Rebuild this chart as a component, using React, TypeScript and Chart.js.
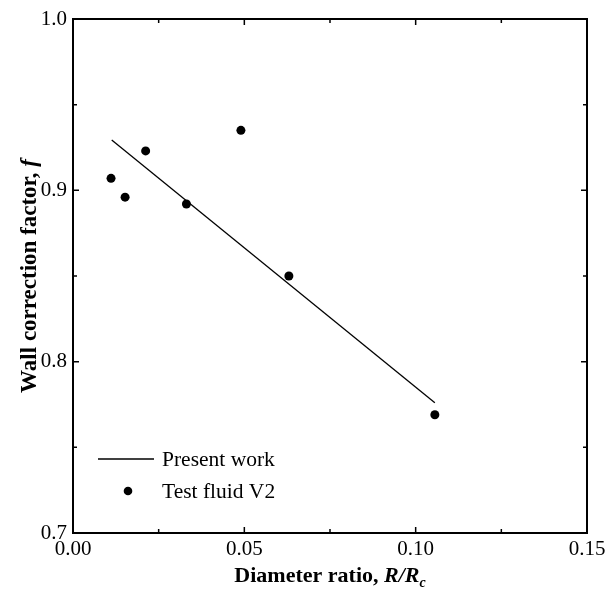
import React, { useEffect, useRef } from "react";
import { Chart, registerables } from "chart.js";

Chart.register(...registerables);

// Data
const diameterRatio = [0.0111, 0.0152, 0.0212, 0.0331, 0.049, 0.063, 0.1056];
const wallFactor = [0.907, 0.896, 0.923, 0.892, 0.935, 0.85, 0.769];
const fitX = [0.0113, 0.1056];
const fitY = [0.9294, 0.776];

const xMajorTicks = [0, 0.05, 0.1, 0.15];
const xMinorTicks = [0.025, 0.075, 0.125];
const yMajorTicks = [0.7, 0.8, 0.9, 1.0];
const yMinorTicks = [0.75, 0.85, 0.95];

const xTitleParts = ["Diameter ratio, ", "R/R", "c"];
const yTitleParts = ["Wall correction factor, ", "f"];
const legendLabels = ["Present work", "Test fluid V2"];

const FONT = "'Liberation Serif', 'Times New Roman', serif";

const decorPlugin = {
  id: "decor",
  afterDraw(chart: any) {
    const ctx = chart.ctx as CanvasRenderingContext2D;
    const { left, right, top, bottom } = chart.chartArea;
    const xs = chart.scales.x;
    const ys = chart.scales.y;
    ctx.save();
    ctx.strokeStyle = "#000";
    ctx.lineWidth = 2;
    ctx.strokeRect(left, top, right - left, bottom - top);

    ctx.lineWidth = 1.5;
    const major = 6;
    const minor = 4;
    const tickX = (v: number, len: number) => {
      const px = xs.getPixelForValue(v);
      ctx.beginPath();
      ctx.moveTo(px, bottom);
      ctx.lineTo(px, bottom - len);
      ctx.moveTo(px, top);
      ctx.lineTo(px, top + len);
      ctx.stroke();
    };
    const tickY = (v: number, len: number) => {
      const py = ys.getPixelForValue(v);
      ctx.beginPath();
      ctx.moveTo(left, py);
      ctx.lineTo(left + len, py);
      ctx.moveTo(right, py);
      ctx.lineTo(right - len, py);
      ctx.stroke();
    };
    xMajorTicks.forEach((v) => tickX(v, major));
    xMinorTicks.forEach((v) => tickX(v, minor));
    yMajorTicks.forEach((v) => tickY(v, major));
    yMinorTicks.forEach((v) => tickY(v, minor));

    ctx.fillStyle = "#000";
    ctx.textBaseline = "alphabetic";
    ctx.textAlign = "left";

    // X title
    const fBold = `bold 22px ${FONT}`;
    const fBI = `italic bold 22px ${FONT}`;
    const fSub = `italic bold 14px ${FONT}`;
    ctx.font = fBold;
    const w1 = ctx.measureText(xTitleParts[0]).width;
    ctx.font = fBI;
    const w2 = ctx.measureText(xTitleParts[1]).width;
    ctx.font = fSub;
    const w3 = ctx.measureText(xTitleParts[2]).width;
    const total = w1 + w2 + w3;
    const x0 = (left + right) / 2 - total / 2;
    const by = 582;
    ctx.font = fBold;
    ctx.fillText(xTitleParts[0], x0, by);
    ctx.font = fBI;
    ctx.fillText(xTitleParts[1], x0 + w1, by);
    ctx.font = fSub;
    ctx.fillText(xTitleParts[2], x0 + w1 + w2, by + 5);

    // Y title
    const yBold = `bold 23px ${FONT}`;
    const yBI = `italic bold 23px ${FONT}`;
    ctx.save();
    ctx.translate(36, (top + bottom) / 2);
    ctx.rotate(-Math.PI / 2);
    ctx.font = yBold;
    const yw1 = ctx.measureText(yTitleParts[0]).width;
    ctx.font = yBI;
    const yw2 = ctx.measureText(yTitleParts[1]).width;
    const ystart = -(yw1 + yw2) / 2;
    ctx.font = yBold;
    ctx.fillText(yTitleParts[0], ystart, 0);
    ctx.font = yBI;
    ctx.fillText(yTitleParts[1], ystart + yw1, 0);
    ctx.restore();

    // Legend
    ctx.lineWidth = 1.3;
    ctx.beginPath();
    ctx.moveTo(98, 459);
    ctx.lineTo(154, 459);
    ctx.stroke();
    ctx.font = `21.5px ${FONT}`;
    ctx.fillText(legendLabels[0], 162, 466);
    ctx.beginPath();
    ctx.arc(128, 491, 4.3, 0, Math.PI * 2);
    ctx.fill();
    ctx.fillText(legendLabels[1], 162, 498);
    ctx.restore();
  },
};

export default function App() {
  const ref = useRef<HTMLCanvasElement | null>(null);
  useEffect(() => {
    if (!ref.current) return;
    const chart = new Chart(ref.current, {
      type: "scatter",
      data: {
        datasets: [
          {
            label: legendLabels[0],
            data: fitX.map((x, i) => ({ x, y: fitY[i] })),
            showLine: true,
            borderColor: "#000",
            borderWidth: 1.3,
            pointRadius: 0,
            fill: false,
          },
          {
            label: legendLabels[1],
            data: diameterRatio.map((x, i) => ({ x, y: wallFactor[i] })),
            pointRadius: 4.5,
            pointBackgroundColor: "#000",
            pointBorderWidth: 0,
            showLine: false,
          },
        ],
      },
      options: {
        animation: false,
        responsive: false,
        devicePixelRatio: 1,
        layout: { padding: { top: 19, right: 19, left: 0, bottom: 0 } },
        plugins: {
          legend: { display: false },
          tooltip: { enabled: false },
          title: { display: false },
        },
        scales: {
          x: {
            type: "linear",
            min: 0,
            max: 0.15,
            grid: { display: false, drawTicks: false },
            border: { display: false },
            ticks: {
              stepSize: 0.05,
              autoSkip: false,
              maxRotation: 0,
              padding: 4,
              color: "#000",
              font: { family: FONT, size: 21 },
              callback: (v: any) => Number(v).toFixed(2),
            },
            afterFit: (s: any) => {
              s.height = 60;
              s.paddingLeft = 0;
              s.paddingRight = 0;
            },
          },
          y: {
            type: "linear",
            min: 0.7,
            max: 1.0,
            grid: { display: false, drawTicks: false },
            border: { display: false },
            ticks: {
              stepSize: 0.1,
              autoSkip: false,
              padding: 6,
              color: "#000",
              font: { family: FONT, size: 21 },
              callback: (v: any) => Number(v).toFixed(1),
            },
            afterFit: (s: any) => {
              s.width = 73;
              s.paddingTop = 0;
              s.paddingBottom = 0;
            },
          },
        },
      },
      plugins: [decorPlugin],
    });
    return () => chart.destroy();
  }, []);
  return (
    <div style={{ position: "absolute", left: 0, top: 0, width: 606, height: 593, background: "#fff" }}>
      <canvas ref={ref} width={606} height={593} />
    </div>
  );
}
